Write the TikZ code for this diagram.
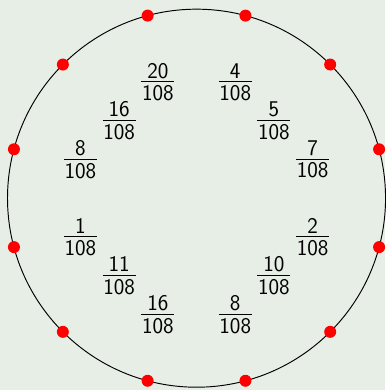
\documentclass[tikz,border=0pt]{standalone}
\definecolor{bgcol}{RGB}{230,238,230}
% numerator over 108, tight like the original
\newcommand{\frc}[1]{\vbox{\offinterlineskip\halign{\kern0.5pt\hfil##\hfil\kern0.5pt\cr
  #1\cr\noalign{\kern2.2pt\hrule height 0.8pt\kern2.4pt}
  108\cr}}}
\begin{document}
\begin{tikzpicture}[line cap=round,line join=round]
  \fill[bgcol] (-5.078,-4.956) rectangle (4.871,5.121);
  \useasboundingbox (-5.078,-4.956) rectangle (4.871,5.121);
  \draw[line width=0.7pt] (0,0) circle (4.884);
  \foreach \a in {15,45,...,345}
    \fill[red] (\a:4.884) circle (0.155);
  \foreach \x/\y/\n [count=\i] in {-1/3/20,1/3/4,-2/2/16,2/2/5,-3/1/8,3/1/7,
      -3/-1/1,3/-1/2,-2/-2/11,2/-2/10,-1/-3/16,1/-3/8}
    \node[font=\sffamily\fontsize{16.5}{19}\selectfont,inner sep=0pt] (w\i) at (\x,\y) {\frc{\n}};
\end{tikzpicture}
\end{document}
